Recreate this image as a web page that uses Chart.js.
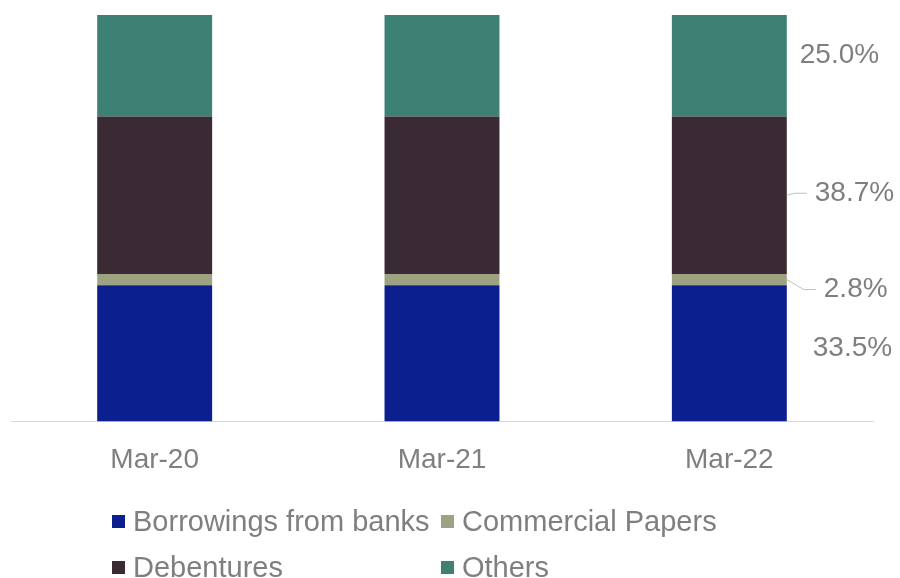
<!DOCTYPE html>
<html>
<head>
<meta charset="utf-8">
<script src="https://cdn.jsdelivr.net/npm/chart.js@4.4.1/dist/chart.umd.min.js"></script>
<style>
    body { margin: 0; background: #ffffff; }
    #wrap { position: relative; width: 900px; height: 578px; overflow: hidden; }
    #legend {
        position: absolute; left: 112px; top: 504px;
        display: grid; grid-template-columns: 329px 300px; row-gap: 12px;
        font-family: "Liberation Sans", Arial, sans-serif; font-size: 29px; color: #7f7f7f;
    }
    .item { display: flex; align-items: center; height: 34px; white-space: nowrap; }
    .box { width: 13px; height: 13px; margin-right: 8px; flex: none; }
</style>
</head>
<body>
<div id="wrap">
    <canvas id="chartCanvas" width="900" height="578"></canvas>
    <div id="legend"></div>
</div>
<script>
    // categories and series (share of total, %)
    const categories = ['Mar-20', 'Mar-21', 'Mar-22'];
    const seriesNames = ['Borrowings from banks', 'Commercial Papers', 'Debentures', 'Others'];
    const borrowings = [33.5, 33.5, 33.5];
    const commercialPapers = [2.8, 2.8, 2.8];
    const debentures = [38.7, 38.7, 38.7];
    const others = [25.0, 25.0, 25.0];
    const seriesColors = ['#0b1f8e', '#9ea283', '#3a2a33', '#3d8174'];

    // label placement next to last bar (x from bar edge, y from segment middle)
    const labelOffsets = [
        { dx: 26, dy: -5, leader: false },
        { dx: 37, dy: 10, leader: true },
        { dx: 28, dy: -2, leader: true },
        { dx: 13, dy: -11, leader: false }
    ];

    const seriesValues = [borrowings, commercialPapers, debentures, others];

    const lastBarLabels = {
        id: 'lastBarLabels',
        afterDatasetsDraw(chart) {
            const ctx = chart.ctx;
            const last = categories.length - 1;
            ctx.save();
            ctx.font = '28px "Liberation Sans", Arial, sans-serif';
            ctx.fillStyle = '#7f7f7f';
            ctx.textBaseline = 'middle';
            ctx.textAlign = 'left';
            chart.data.datasets.forEach((ds, i) => {
                const bar = chart.getDatasetMeta(i).data[last];
                const right = bar.x + bar.width / 2;
                const mid = (bar.y + bar.base) / 2;
                const o = labelOffsets[i];
                const ty = mid + o.dy;
                if (o.leader) {
                    ctx.strokeStyle = '#bfbfbf';
                    ctx.lineWidth = 1;
                    ctx.beginPath();
                    ctx.moveTo(right, mid);
                    ctx.lineTo(right + (o.dx - 20), ty);
                    ctx.lineTo(right + o.dx - 8, ty);
                    ctx.stroke();
                }
                ctx.fillText(ds.data[last].toFixed(1) + '%', right + o.dx, ty);
            });
            ctx.restore();
        }
    };

    const chartData = {
        labels: categories,
        datasets: seriesNames.map((name, i) => ({
            label: name,
            data: seriesValues[i],
            backgroundColor: seriesColors[i],
            borderWidth: 0,
            barPercentage: 0.4,
            categoryPercentage: 1
        }))
    };

    new Chart(document.getElementById('chartCanvas'), {
        type: 'bar',
        data: chartData,
        options: {
            responsive: false,
            animation: false,
            layout: { padding: { left: 11, right: 27, top: 15, bottom: 79 } },
            plugins: {
                legend: { display: false },
                tooltip: { enabled: false }
            },
            scales: {
                x: {
                    stacked: true,
                    grid: { display: false, drawTicks: false },
                    border: { display: true, color: '#d9d9d9', width: 1 },
                    ticks: {
                        color: '#7f7f7f',
                        padding: 22,
                        font: { family: '"Liberation Sans", Arial, sans-serif', size: 28 }
                    }
                },
                y: {
                    stacked: true,
                    display: false,
                    min: 0,
                    max: 100
                }
            }
        },
        plugins: [lastBarLabels]
    });

    // legend, two columns
    const legendEl = document.getElementById('legend');
    seriesNames.forEach((name, i) => {
        const item = document.createElement('div');
        item.className = 'item';
        const box = document.createElement('span');
        box.className = 'box';
        box.style.background = seriesColors[i];
        const txt = document.createElement('span');
        txt.textContent = name;
        item.appendChild(box);
        item.appendChild(txt);
        legendEl.appendChild(item);
    });
</script>
</body>
</html>
